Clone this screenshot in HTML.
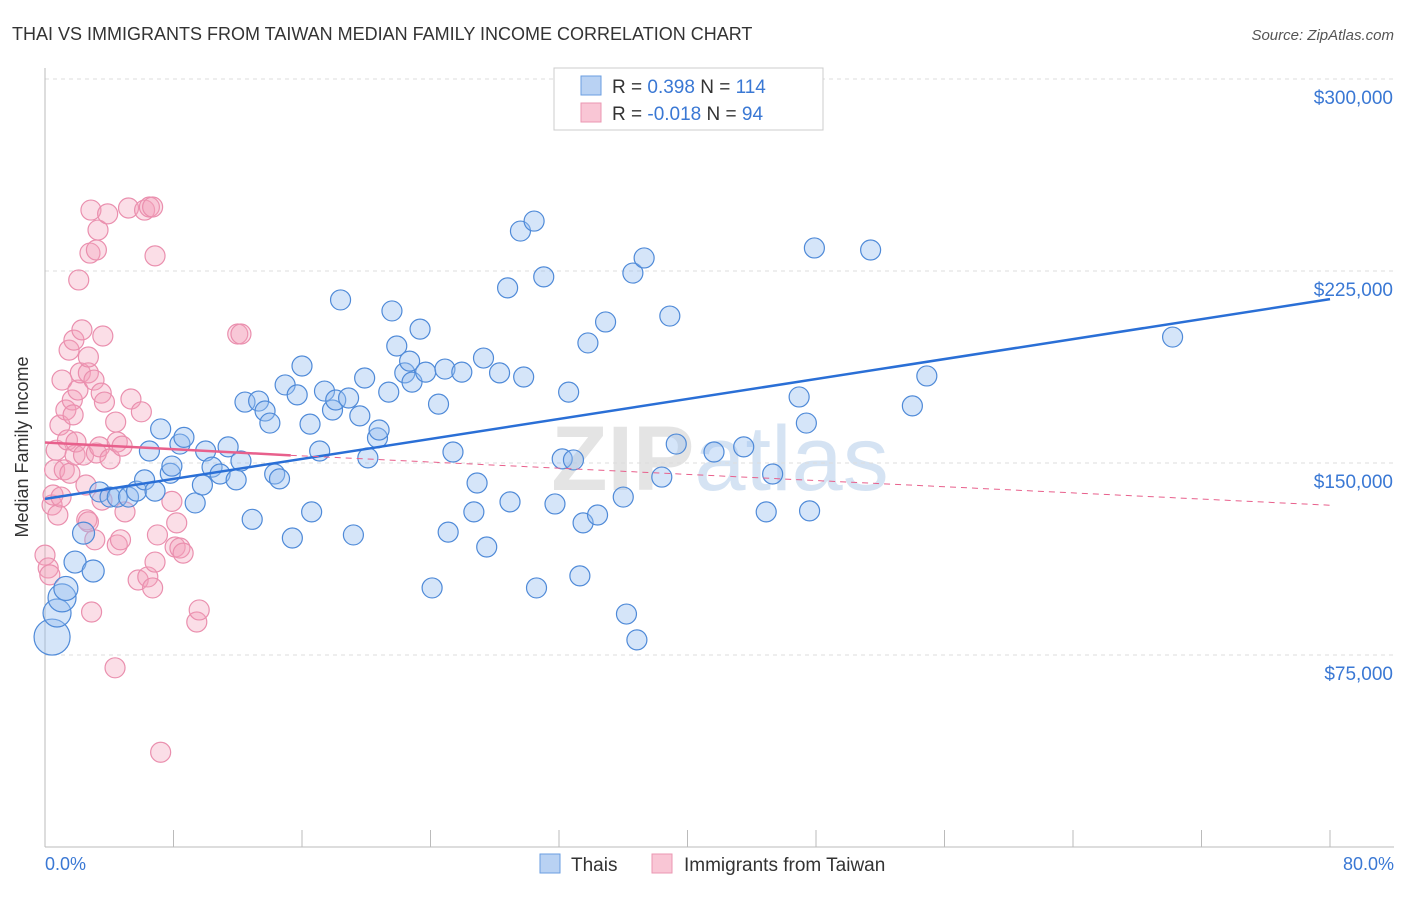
<!DOCTYPE html>
<html><head><meta charset="utf-8"><style>
body{margin:0;background:#fff;font-family:"Liberation Sans",sans-serif;}
svg text{font-family:"Liberation Sans",sans-serif;}
</style></head><body>
<svg id="chart" width="1406" height="892">
<text x="12" y="40" font-size="18" fill="#333">THAI VS IMMIGRANTS FROM TAIWAN MEDIAN FAMILY INCOME CORRELATION CHART</text>
<text x="1394" y="40" font-size="15" fill="#555" font-style="italic" text-anchor="end">Source: ZipAtlas.com</text>
<text x="720" y="490" font-size="92" fill="#e4e4e4" text-anchor="middle" font-weight="bold">ZIP<tspan fill="#d5e3f3" font-weight="normal">atlas</tspan></text>
<g id="grid"></g><g id="axes"></g><g id="pts"></g><g id="trend"></g>
<text x="36" y="455" font-size="18" fill="#333" text-anchor="middle" transform="rotate(-90 28 455)">Median Family Income</text>
<text x="45" y="870" font-size="18" fill="#3a78d4">0.0%</text>
<text x="1394" y="870" font-size="18" fill="#3a78d4" text-anchor="end">80.0%</text>
<g>
<rect x="554" y="68" width="269" height="62" fill="#fff" stroke="#ccc"/>
<rect x="581" y="76" width="20" height="19" fill="#b9d2f3" stroke="#6a9ee0"/>
<rect x="581" y="103" width="20" height="19" fill="#f9c6d5" stroke="#eb97b2"/>
<text x="612" y="93" font-size="19" fill="#333">R =  <tspan fill="#3a78d4">0.398</tspan>   N = <tspan fill="#3a78d4">114</tspan></text>
<text x="612" y="120" font-size="19" fill="#333">R = <tspan fill="#3a78d4">-0.018</tspan>   N =  <tspan fill="#3a78d4">94</tspan></text>
</g>
<g>
<rect x="540" y="854" width="20" height="19" fill="#b9d2f3" stroke="#6a9ee0"/>
<text x="571" y="871" font-size="19" fill="#333">Thais</text>
<rect x="652" y="854" width="20" height="19" fill="#f9c6d5" stroke="#eb97b2"/>
<text x="684" y="871" font-size="19" fill="#333">Immigrants from Taiwan</text>
</g>
</svg>
<script>
const yTicks=[75000,150000,225000,300000];
const yTickLabels=["$75,000","$150,000","$225,000","$300,000"];
const xTicks=[0,8,16,24,32,40,48,56,64,72,80];
const thaiX=[0.44,0.75,1.06,1.3,1.87,3.0,2.4,3.4,4.05,4.5,5.2,5.7,6.2,6.85,6.5,7.2,7.8,8.4,8.65,9.35,9.8,10.0,10.4,10.9,11.4,11.9,12.2,12.45,12.9,13.3,13.7,14.0,14.3,14.6,14.95,15.4,15.7,16.0,16.5,16.6,17.1,17.4,17.9,18.1,18.4,18.9,19.2,19.6,19.9,20.1,20.7,20.8,21.4,21.6,21.9,22.4,22.7,22.85,23.35,23.7,24.1,24.5,24.9,25.1,25.4,25.95,26.7,26.9,27.3,27.5,28.3,28.8,28.95,29.6,29.8,30.45,30.6,31.05,31.75,32.2,32.6,32.9,33.3,33.5,33.8,34.4,34.9,36.0,36.2,36.6,36.85,37.3,38.4,38.9,39.3,41.65,43.5,44.9,45.3,46.95,47.4,47.6,47.9,51.4,54.0,54.9,70.2,7.9];
const thaiY=[82,91.4,97.3,101,111.3,107.8,122.6,138.7,136.7,136.7,136.7,139,143.4,139,154.7,163.3,146,157.4,160,134.4,141.4,154.7,148.4,145.7,156.3,143.4,150.8,173.8,128,174.2,170.3,165.6,145.7,143.8,180.5,120.7,176.6,187.9,165.2,130.9,154.7,178.1,170.7,174.6,213.7,175.4,121.9,168.4,183.2,152,159.8,162.9,177.7,209.4,195.7,185.2,189.8,181.6,202.3,185.5,101.2,173,186.7,123,154.3,185.5,130.9,142.2,191,117.2,185.2,218.4,134.8,240.6,183.6,244.5,101.2,222.7,134,151.6,177.7,151.2,105.9,126.6,196.9,129.7,205.1,136.7,91,224.2,80.9,230.1,144.5,207.4,157.4,154.3,156.3,130.9,145.7,175.8,165.6,131.3,234,233.2,172.3,184,199.2,148.8];
const thaiBig=[18,14,14,12,11,11,11,10,10,10,10,10,10,10,10,10,10,10,10,10,10,10,10,10,10,10,10,10,10,10,10,10,10,10,10,10,10,10,10,10,10,10,10,10,10,10,10,10,10,10,10,10,10,10,10,10,10,10,10,10,10,10,10,10,10,10,10,10,10,10,10,10,10,10,10,10,10,10,10,10,10,10,10,10,10,10,10,10,10,10,10,10,10,10,10,10,10,10,10,10,10,10,10,10,10,10,10,10];
const twX=[0,0.2,0.3,0.44,0.5,0.6,0.7,0.8,0.93,1.0,1.06,1.2,1.3,1.4,1.5,1.55,1.7,1.75,1.8,1.87,1.93,2.05,2.1,2.2,2.3,2.4,2.55,2.6,2.7,2.7,2.7,2.8,2.86,2.9,3.05,3.1,3.2,3.2,3.3,3.4,3.5,3.55,3.6,3.7,3.9,4.05,4.36,4.4,4.5,4.5,4.7,4.8,4.98,5.2,5.35,5.8,6.0,6.2,6.4,6.5,6.7,6.7,6.85,6.85,7.0,7.2,7.9,8.1,8.2,8.4,8.6,9.45,9.6,12.0,12.2];
const twY=[114,109,106.3,133.6,137.5,147.3,155,129.7,164.8,136.7,182.4,147.3,170.7,159,194.1,146,174.6,168.8,198,153.1,158.2,178.5,221.5,185.2,202,153.1,141.4,127.8,185.2,127,191.4,232,248.8,91.8,182.4,120,153.9,233.2,241,156.3,177.3,135.5,199.6,173.8,247.3,151.6,70,166,118,158.2,120,156.6,130.9,249.6,175,104.3,170,248.8,105.5,250,250,101.2,230.9,111.3,121.9,37,135,117.2,126.6,116.8,114.8,87.9,92.6,200.4,200.4];
const ns="http://www.w3.org/2000/svg";
const X0=45,X1=1330,Y0=847,Ypx=192/75000;
function xs(v){return X0+(v/80)*(X1-X0);}
function ys(v){return Y0-v*Ypx;}
function mk(t,a,p){const e=document.createElementNS(ns,t);for(const k in a)e.setAttribute(k,a[k]);document.getElementById(p).appendChild(e);return e;}
let e=mk('line',{x1:45,y1:68,x2:45,y2:847,stroke:'#bbb'},'axes');


e=mk('line',{x1:45,y1:847,x2:1394,y2:847,stroke:'#bbb'},'axes');


xTicks.forEach(t=>{const l=mk('line',{x1:xs(t),y1:830,x2:xs(t),y2:847,stroke:'#bbb'},'axes');

});
yTicks.forEach((t,i)=>{const l=mk('line',{x1:45,y1:ys(t),x2:1394,y2:ys(t),stroke:'#ddd','stroke-dasharray':'4 4'},'grid');


const tx=mk('text',{x:1393,y:ys(t)+25,'font-size':19,fill:'#3a78d4','text-anchor':'end'},'grid');tx.textContent=yTickLabels[i];

});
const l0=mk('line',{x1:45,y1:79,x2:1394,y2:79,stroke:'#ddd','stroke-dasharray':'4 4'},'grid');
twX.forEach((x,i)=>{const c=mk('circle',{cx:xs(x),cy:ys(twY[i]*1000),r:10,fill:'rgba(244,160,187,0.35)',stroke:'#ea8fae','stroke-width':1.2},'pts');

});
thaiX.forEach((x,i)=>{const c=mk('circle',{cx:xs(x),cy:ys(thaiY[i]*1000),r:thaiBig[i],fill:'rgba(150,190,240,0.4)',stroke:'#4f8ad8','stroke-width':1.2},'pts');

});
// trend lines
e=mk('line',{x1:xs(0),y1:ys(136000),x2:xs(80),y2:ys(214000),stroke:'#2a6fd6','stroke-width':2.5},'trend');


e=mk('line',{x1:xs(0),y1:ys(158000),x2:xs(15.3),y2:ys(153000),stroke:'#e8608c','stroke-width':2.5},'trend');


e=mk('line',{x1:xs(15.3),y1:ys(153000),x2:xs(80),y2:ys(133500),stroke:'#e8608c','stroke-width':1,'stroke-dasharray':'6 5'},'trend');


</script>
</body></html>
